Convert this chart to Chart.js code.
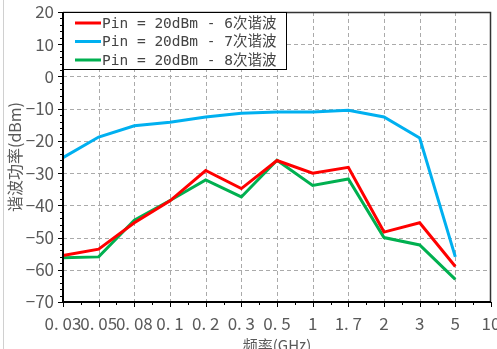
<!DOCTYPE html>
<html>
<head>
<meta charset="utf-8">
<script src="https://cdn.jsdelivr.net/npm/chart.js@4.4.0/dist/chart.umd.min.js"></script>
<style>
  html, body { margin: 0; padding: 0; background: #fff; }
  #wrap { position: relative; width: 497px; height: 349px; }
</style>
</head>
<body>
<div id="wrap"><canvas id="harmChart" width="497" height="349"></canvas></div>
<script>
// frequency points (GHz), last one has no measurement
const freqs = ['0.03', '0.05', '0.08', '0.1', '0.2', '0.3', '0.5', '1', '1.7', '2', '3', '5', '10'];

// harmonic power (dBm) at Pin = 20dBm
const harm6 = [-55.6, -53.6, -45.4, -38.6, -29.2, -34.8, -26.1, -30.0, -28.2, -48.3, -45.4, -59.0, null];
const harm7 = [-25.2, -18.8, -15.3, -14.2, -12.6, -11.4, -11.0, -11.0, -10.5, -12.6, -19.1, -56.0, null];
const harm8 = [-56.3, -56.0, -44.6, -38.5, -32.1, -37.4, -26.0, -33.8, -31.8, -50.0, -52.3, -63.0, null];

const seriesNames = ['Pin = 20dBm - 6次谐波', 'Pin = 20dBm - 7次谐波', 'Pin = 20dBm - 8次谐波'];
const yTicks = { min: -70, max: 20, step: 10 };

const cjk = '"Noto Sans CJK SC", "Noto Sans", sans-serif';

// dashed grid under the lines
const dashGrid = {
  id: 'dashGrid',
  beforeDatasetsDraw(chart) {
    const { ctx, chartArea: a, scales } = chart;
    ctx.save();
    ctx.strokeStyle = '#aaaaaa';
    ctx.lineWidth = 1;
    ctx.setLineDash([4, 3]);
    for (let v = yTicks.min + yTicks.step; v < yTicks.max; v += yTicks.step) {
      const py = Math.round(scales.y.getPixelForValue(v)) + 0.5;
      ctx.beginPath(); ctx.moveTo(a.left, py); ctx.lineTo(a.right, py); ctx.stroke();
    }
    for (let i = 1; i < freqs.length - 1; i++) {
      const px = Math.round(scales.x.getPixelForValue(i)) + 0.5;
      ctx.beginPath(); ctx.moveTo(px, a.top); ctx.lineTo(px, a.bottom); ctx.stroke();
    }
    ctx.restore();
  }
};

// frame, tick marks (major + minor) and the boxed legend
const decor = {
  id: 'decor',
  afterDraw(chart) {
    const { ctx, chartArea: a, scales } = chart;
    const x = scales.x, y = scales.y;
    ctx.save();
    ctx.strokeStyle = '#000';
    ctx.lineWidth = 1;
    // y ticks
    for (let v = yTicks.min; v <= yTicks.max; v += 2) {
      const py = Math.round(y.getPixelForValue(v)) + 0.5;
      const len = v % 10 === 0 ? 5 : 3;
      ctx.beginPath(); ctx.moveTo(a.left - len, py); ctx.lineTo(a.left, py); ctx.stroke();
    }
    // x ticks
    const n = freqs.length;
    for (let i = 0; i < n; i++) {
      const px = Math.round(x.getPixelForValue(i)) + 0.5;
      ctx.beginPath(); ctx.moveTo(px, a.bottom); ctx.lineTo(px, a.bottom + 5); ctx.stroke();
      if (i < n - 1) {
        const mx = Math.round((x.getPixelForValue(i) + x.getPixelForValue(i + 1)) / 2) + 0.5;
        ctx.beginPath(); ctx.moveTo(mx, a.bottom); ctx.lineTo(mx, a.bottom + 3); ctx.stroke();
      }
    }
    // top / right frame
    ctx.strokeStyle = '#333';
    ctx.lineWidth = 1.5;
    ctx.beginPath();
    ctx.moveTo(a.left, a.top + 0.5); ctx.lineTo(a.right - 0.5, a.top + 0.5); ctx.lineTo(a.right - 0.5, a.bottom);
    ctx.stroke();
    // left / bottom axes
    ctx.strokeStyle = '#000';
    ctx.lineWidth = 2;
    ctx.beginPath();
    ctx.moveTo(a.left, a.top); ctx.lineTo(a.left, a.bottom); ctx.lineTo(a.right, a.bottom);
    ctx.stroke();

    // legend box
    const bx = a.left, by = a.top, bw = 223, bh = 57;
    ctx.fillStyle = '#fff';
    ctx.fillRect(bx, by, bw, bh);
    ctx.strokeStyle = '#000';
    ctx.lineWidth = 1;
    ctx.strokeRect(bx + 0.5, by + 0.5, bw, bh);
    ctx.font = '14.5px "DejaVu Sans Mono", "Noto Sans CJK SC", monospace';
    ctx.textBaseline = 'middle';
    chart.data.datasets.forEach((ds, i) => {
      const ly = by + 11 + i * 18.5;
      ctx.strokeStyle = ds.borderColor;
      ctx.lineWidth = 3;
      ctx.beginPath(); ctx.moveTo(bx + 12, ly); ctx.lineTo(bx + 38, ly); ctx.stroke();
      ctx.fillStyle = '#444';
      ctx.fillText(ds.label, bx + 39, ly + 1);
    });
    ctx.restore();
  }
};

// gray page border on the left
const pageEdge = {
  id: 'pageEdge',
  beforeDraw(chart) {
    const ctx = chart.ctx;
    ctx.save();
    ctx.strokeStyle = '#d0d0d0';
    ctx.lineWidth = 1;
    ctx.beginPath(); ctx.moveTo(3.5, 0); ctx.lineTo(3.5, chart.height); ctx.stroke();
    ctx.restore();
  }
};

const mkSet = (label, data, color) => ({
  label, data, borderColor: color, backgroundColor: color,
  borderWidth: 3, pointRadius: 0, tension: 0, spanGaps: false
});

new Chart(document.getElementById('harmChart'), {
  type: 'line',
  data: {
    labels: freqs,
    datasets: [
      mkSet(seriesNames[0], harm6, '#ff0000'),
      mkSet(seriesNames[1], harm7, '#00b0f0'),
      mkSet(seriesNames[2], harm8, '#00b050')
    ]
  },
  options: {
    responsive: false,
    animation: false,
    layout: { autoPadding: false, padding: { top: 12, right: 6, left: 0, bottom: 0 } },
    plugins: { legend: { display: false }, tooltip: { enabled: false } },
    scales: {
      x: {
        offset: false,
        grid: { display: false, drawTicks: false },
        border: { display: false },
        ticks: {
          color: '#5a5a5a', padding: 11, maxRotation: 0, autoSkip: false,
          font: { family: cjk, size: 17 },
          callback: (v, i) => freqs[i].replace('.', '. ')
        },
        title: {
          display: true, text: '频率(GHz)', color: '#5a5a5a',
          font: { family: cjk, size: 15 }, padding: { top: 4, bottom: -5 }
        },
        afterFit: s => { s.height = 47; s.paddingLeft = 0; s.paddingRight = 0; }
      },
      y: {
        min: yTicks.min, max: yTicks.max,
        grid: { display: false, drawTicks: false },
        border: { display: false },
        ticks: {
          stepSize: yTicks.step, color: '#5a5a5a', padding: 9,
          font: { family: cjk, size: 17 },
          callback: v => (v < 0 ? '\u2212' + Math.abs(v) : String(v))
        },
        title: {
          display: true, text: '谐波功率(dBm)', color: '#5a5a5a',
          font: { family: cjk, size: 16 }, padding: { top: 5, bottom: 0 }
        },
        afterFit: s => { s.width = 63; s.paddingTop = 0; s.paddingBottom = 0; }
      }
    }
  },
  plugins: [pageEdge, dashGrid, decor]
});
</script>
</body>
</html>
